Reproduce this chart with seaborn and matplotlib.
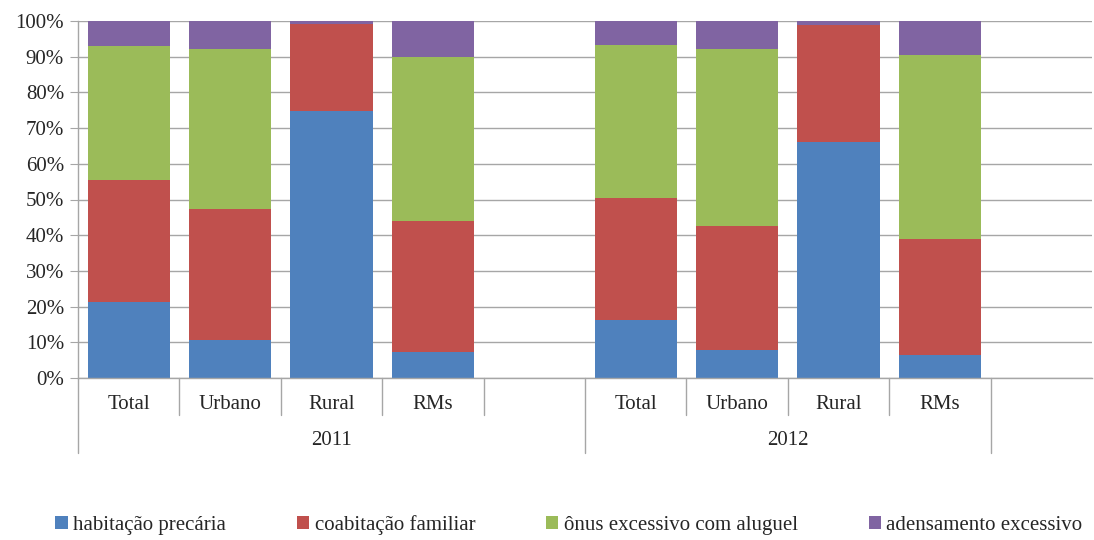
import numpy as np
import matplotlib
matplotlib.use("Agg")
import matplotlib.pyplot as plt
from matplotlib.patches import Patch
import seaborn as sns
import pandas as pd

# dados (% do deficit habitacional)
anos = ["2011", "2012"]
categorias = ["Total", "Urbano", "Rural", "RMs"]
series = ["habitação precária", "coabitação familiar",
          "ônus excessivo com aluguel", "adensamento excessivo"]
cores = ["#4F81BD", "#C0504D", "#9BBB59", "#8064A2"]

habitacao_2011 = [21.2, 10.7, 74.9, 7.4]
coabitacao_2011 = [34.4, 36.5, 24.3, 36.7]
onus_2011 = [37.5, 44.9, 0.0, 45.7]
adensamento_2011 = [6.9, 7.9, 0.8, 10.2]

habitacao_2012 = [16.2, 7.9, 66.2, 6.5]
coabitacao_2012 = [34.2, 34.6, 32.7, 32.4]
onus_2012 = [42.8, 49.7, 0.0, 51.6]
adensamento_2012 = [6.8, 7.8, 1.1, 9.5]

valores = {
    "2011": [habitacao_2011, coabitacao_2011, onus_2011, adensamento_2011],
    "2012": [habitacao_2012, coabitacao_2012, onus_2012, adensamento_2012],
}

# slots: 2011 tem uma posicao vazia no fim, e sobra uma no fim do eixo
ordem = [f"2011 {c}" for c in categorias] + ["2011 vazio"] + \
        [f"2012 {c}" for c in categorias] + ["2012 vazio"]

linhas = []
for ano in anos:
    acumulado = np.zeros(len(categorias))
    for s, vals in zip(series, valores[ano]):
        acumulado = acumulado + np.array(vals)
        for c, v in zip(categorias, acumulado):
            linhas.append({"slot": f"{ano} {c}", "serie": s, "topo": v})
df = pd.DataFrame(linhas)

sns.set_style("white")
plt.rcParams["font.family"] = ["Liberation Serif", "DejaVu Serif"]
fs = 15

fig = plt.figure(figsize=(10.94, 5.4), dpi=100)
ax = fig.add_axes([78 / 1094, 162 / 540, 1014 / 1094, 357 / 540])

cinza = "#a6a6a6"
# desenha do topo para baixo, cada camada cobre a anterior
for s, cor in reversed(list(zip(series, cores))):
    sns.barplot(data=df[df["serie"] == s], x="slot", y="topo", order=ordem,
                color=cor, saturation=1, width=0.81, errorbar=None,
                linewidth=0, ax=ax)

ax.set_xlim(-0.5, 9.5)
ax.set_ylim(0, 100)
ax.set_yticks(np.arange(0, 101, 10))
ax.set_yticklabels([f"{v}%" for v in range(0, 101, 10)], fontsize=fs)
ax.yaxis.grid(True, color=cinza, linewidth=1)
ax.set_axisbelow(True)
ax.tick_params(axis="y", length=6, color=cinza, direction="out", pad=4, left=True)
ax.set_xticks([])
ax.set_xlabel("")
ax.set_ylabel("")
for lado in ["top", "right"]:
    ax.spines[lado].set_visible(False)
for lado in ["left", "bottom"]:
    ax.spines[lado].set_color(cinza)
    ax.spines[lado].set_linewidth(1)

trans = ax.get_xaxis_transform()
curtas = [0.5, 1.5, 2.5, 3.5, 5.5, 6.5, 7.5]
longas = [-0.5, 4.5, 8.5]
for x in curtas:
    ax.plot([x, x], [0, -0.104], transform=trans, clip_on=False, color=cinza, lw=1)
for x in longas:
    ax.plot([x, x], [0, -0.21], transform=trans, clip_on=False, color=cinza, lw=1)

posicoes = {"2011": [0, 1, 2, 3], "2012": [5, 6, 7, 8]}
for ano in anos:
    for p, c in zip(posicoes[ano], categorias):
        ax.text(p, -0.075, c, transform=trans, ha="center", va="center", fontsize=fs)
ax.text(2.0, -0.176, "2011", transform=trans, ha="center", va="center", fontsize=fs)
ax.text(6.5, -0.176, "2012", transform=trans, ha="center", va="center", fontsize=fs)

alcas = [Patch(facecolor=c, edgecolor="none") for c in cores]
fig.legend(alcas, series, loc="center", bbox_to_anchor=(0.52, 1 - 525 / 540),
           ncol=4, frameon=False, fontsize=fs, handlelength=0.6, handleheight=0.6,
           handletextpad=0.25, columnspacing=3.4)

fig.savefig("out.png", dpi=100)
